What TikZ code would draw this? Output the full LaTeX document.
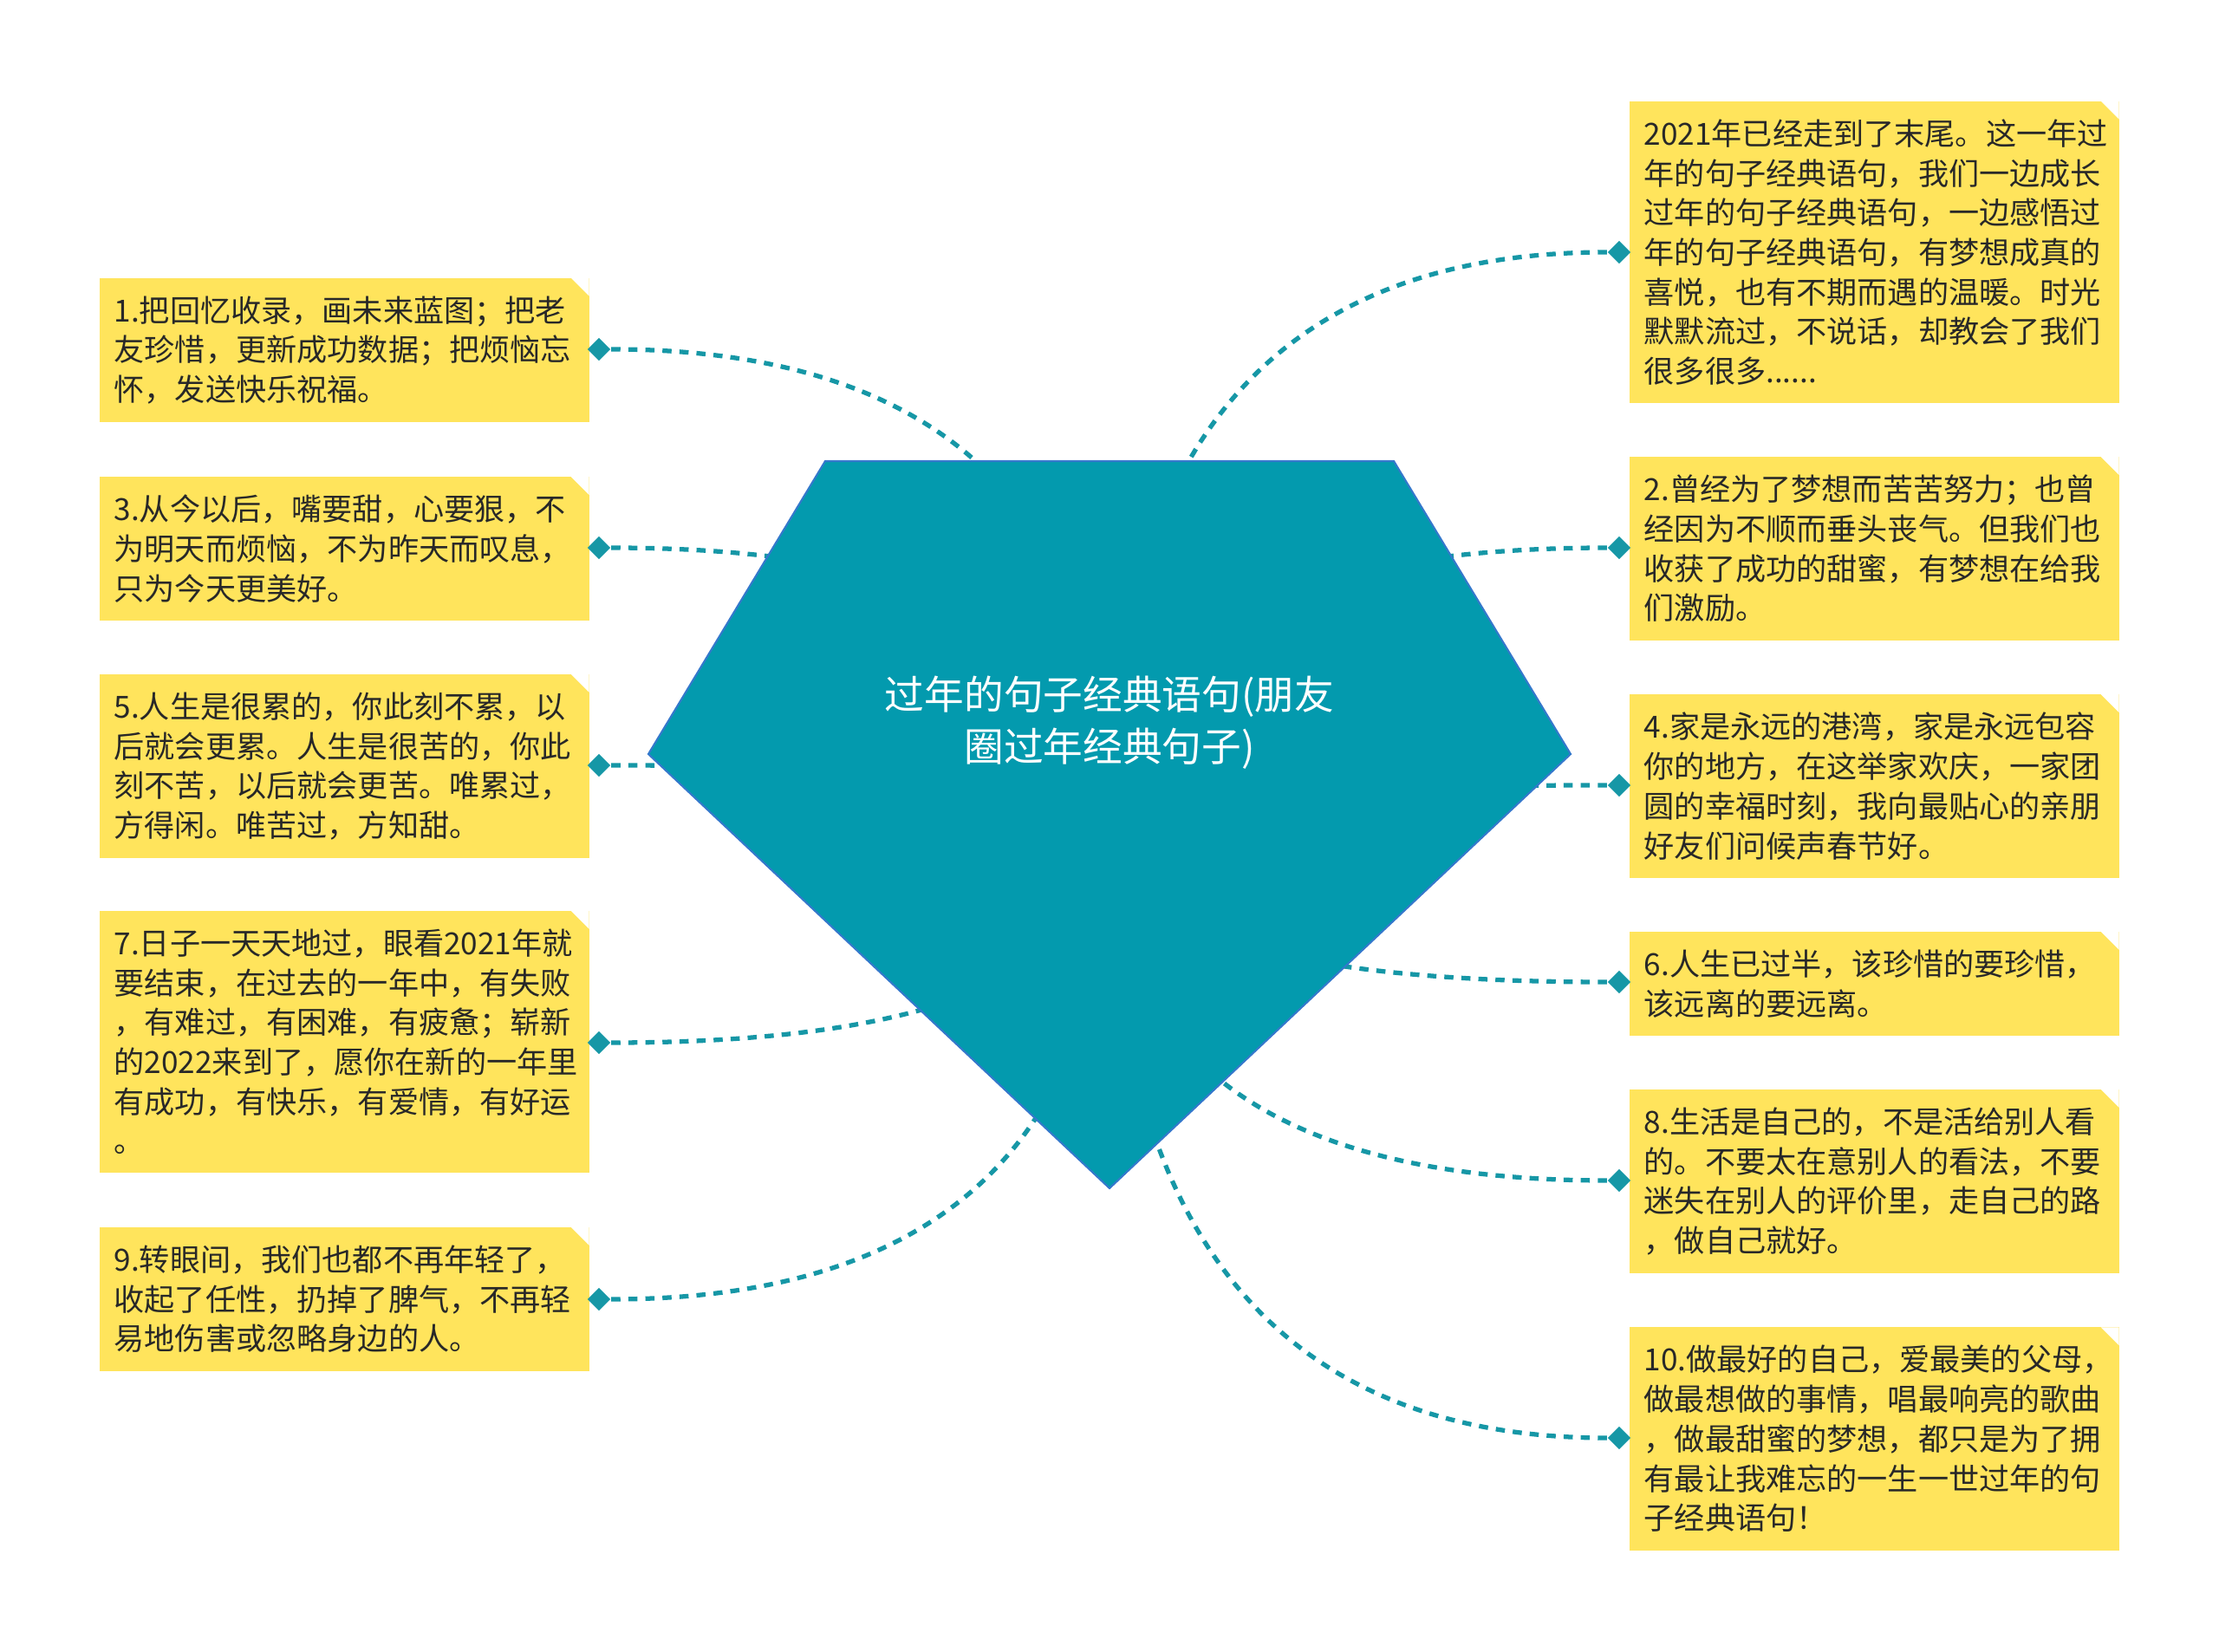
\documentclass[tikz,border=0pt]{standalone}
\usepackage{fontspec}
\setmainfont{Noto Sans CJK SC}
\usepackage{xcolor}
\usepackage{tikz}
\usetikzlibrary{positioning,calc,shapes,shapes.geometric}

\definecolor{gemteal}{RGB}{3,154,174}
\definecolor{gemedge}{RGB}{52,120,204}
\definecolor{linkteal}{RGB}{22,151,166}
\definecolor{notefill}{RGB}{255,228,92}
\definecolor{notetext}{RGB}{40,40,40}

\tikzset{
	note/.style={rectangle, fill=notefill, text=notetext, anchor=west,
		font=\fontsize{10pt}{13pt}\selectfont, text width=5.31cm, align=left,
		inner xsep=0.17cm, inner ysep=0.21cm,
		path picture={\fill[white] (path picture bounding box.north east) -- ++(-0.21,0) -- ++(0.21,-0.21) -- cycle;}},
	tip/.style={diamond, fill=linkteal, inner sep=0pt, minimum size=0.27cm},
	link/.style={linkteal, line width=1.5pt, dash pattern=on 3pt off 2.6pt},
	gem/.style={fill=gemteal, draw=gemedge, line width=0.6pt},
}

\begin{document}
\begin{tikzpicture}
				\useasboundingbox (0,0) rectangle (25.6,-19.06);
				% Centre of the gem, where every link meets
				\coordinate []  (hub) at (12.80,-9.52) ;
				% Left notes
				\node[note] (b1) at (1.14,-4.04) {1.把回忆收录，画未来蓝图；把老\\友珍惜，更新成功数据；把烦恼忘\\怀，发送快乐祝福。};
				\node[note] (b3) at (1.14,-6.33) {3.从今以后，嘴要甜，心要狠，不\\为明天而烦恼，不为昨天而叹息，\\只为今天更美好。};
				\node[note] (b5) at (1.14,-8.84) {5.人生是很累的，你此刻不累，以\\后就会更累。人生是很苦的，你此\\刻不苦，以后就会更苦。唯累过，\\方得闲。唯苦过，方知甜。};
				\node[note] (b7) at (1.14,-12.02) {7.日子一天天地过，眼看2021年就\\要结束，在过去的一年中，有失败\\，有难过，有困难，有疲惫；崭新\\的2022来到了，愿你在新的一年里\\有成功，有快乐，有爱情，有好运\\。};
				\node[note] (b9) at (1.14,-14.99) {9.转眼间，我们也都不再年轻了，\\收起了任性，扔掉了脾气，不再轻\\易地伤害或忽略身边的人。};
				% Right notes
				\node[note] (b0) at (18.79,-2.91) {2021年已经走到了末尾。这一年过\\年的句子经典语句，我们一边成长\\过年的句子经典语句，一边感悟过\\年的句子经典语句，有梦想成真的\\喜悦，也有不期而遇的温暖。时光\\默默流过，不说话，却教会了我们\\很多很多......};
				\node[note] (b2) at (18.79,-6.33) {2.曾经为了梦想而苦苦努力；也曾\\经因为不顺而垂头丧气。但我们也\\收获了成功的甜蜜，有梦想在给我\\们激励。};
				\node[note] (b4) at (18.79,-9.07) {4.家是永远的港湾，家是永远包容\\你的地方，在这举家欢庆，一家团\\圆的幸福时刻，我向最贴心的亲朋\\好友们问候声春节好。};
				\node[note] (b6) at (18.79,-11.35) {6.人生已过半，该珍惜的要珍惜，\\该远离的要远离。};
				\node[note] (b8) at (18.79,-13.63) {8.生活是自己的，不是活给别人看\\的。不要太在意别人的看法，不要\\迷失在别人的评价里，走自己的路\\，做自己就好。};
				\node[note] (b10) at (18.79,-16.60) {10.做最好的自己，爱最美的父母，\\做最想做的事情，唱最响亮的歌曲\\，做最甜蜜的梦想，都只是为了拥\\有最让我难忘的一生一世过年的句\\子经典语句！};
				% Diamond tips beside the notes
				\node[tip] (d1) at (6.91,-4.03) {};
				\node[tip] (d3) at (6.91,-6.32) {};
				\node[tip] (d5) at (6.91,-8.83) {};
				\node[tip] (d7) at (6.91,-12.03) {};
				\node[tip] (d9) at (6.91,-14.99) {};
				\node[tip] (d0) at (18.68,-2.91) {};
				\node[tip] (d2) at (18.68,-6.32) {};
				\node[tip] (d4) at (18.68,-9.06) {};
				\node[tip] (d6) at (18.68,-11.33) {};
				\node[tip] (d8) at (18.68,-13.62) {};
				\node[tip] (d10) at (18.68,-16.59) {};
				% Links
				\foreach \n in {0,...,10} {
					\draw[link] (d\n) .. controls ($(d\n)!2/3!(d\n -| hub)$) and ($(hub)!2/3!(d\n -| hub)$) .. (hub);
				}
				% The gem on top
				\coordinate []  (G1) at (9.52,-5.32) ;
				\coordinate []  (G2) at (16.08,-5.32) ;
				\coordinate []  (G3) at (18.12,-8.70) ;
				\coordinate []  (G4) at (12.80,-13.71) ;
				\coordinate []  (G5) at (7.48,-8.70) ;
				\filldraw[gem] (G1) -- (G2) -- (G3) -- (G4) -- (G5) -- cycle;
				\node[text=white, align=center, font=\fontsize{13pt}{17pt}\selectfont] (title) at (12.80,-8.34) {过年的句子经典语句(朋友\\圈过年经典句子)};
			\end{tikzpicture}
\end{document}
